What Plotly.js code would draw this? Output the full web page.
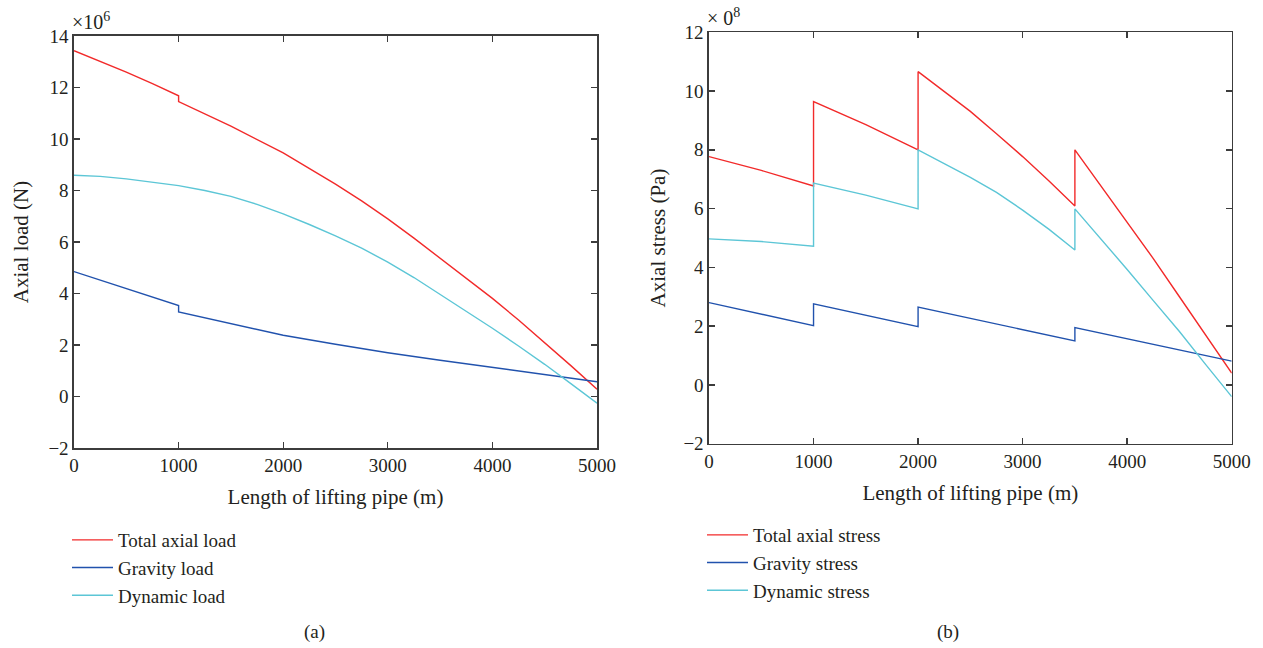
<!DOCTYPE html>
<html>
<head>
<meta charset="utf-8">
<script src="https://cdn.plot.ly/plotly-3.0.1.min.js"></script>
<style>html,body{margin:0;padding:0;background:#fff;}#chart{width:1263px;height:648px;}</style>
</head>
<body>
<div id="chart"></div>
<script>
// ---- Panel (a): axial load (×10^6 N) ----
const loadTotalX = [0,250,500,750,1000,1000,1500,2000,2250,2500,2750,3000,3250,3500,3750,4000,4250,4500,4750,5000];
const loadTotalY = [13.43,13.03,12.6,12.15,11.68,11.45,10.5,9.46,8.87,8.25,7.6,6.9,6.15,5.38,4.6,3.81,2.97,2.1,1.2,0.28];
const loadGravX = [0,500,1000,1000,1500,2000,2500,3000,3500,4000,4500,5000];
const loadGravY = [4.85,4.19,3.53,3.28,2.82,2.38,2.03,1.70,1.41,1.13,0.85,0.57];
const loadDynX = [0,250,500,750,1000,1250,1500,1750,2000,2250,2500,2750,3000,3250,3500,3750,4000,4250,4500,4750,5000];
const loadDynY = [8.59,8.55,8.45,8.33,8.19,8.0,7.77,7.46,7.09,6.68,6.24,5.76,5.22,4.62,3.97,3.32,2.65,1.96,1.25,0.5,-0.26];

// ---- Panel (b): axial stress (×10^8 Pa) ----
const stressTotalX = [0,500,1000,1000,1500,2000,2000,2250,2500,2750,3000,3250,3500,3500,4000,4250,4500,4750,5000];
const stressTotalY = [7.77,7.3,6.77,9.64,8.86,8.0,10.66,10.0,9.31,8.55,7.77,6.95,6.09,8.0,5.55,4.3,3.0,1.7,0.40];
const stressGravX = [0,1000,1000,2000,2000,3500,3500,5000];
const stressGravY = [2.80,2.02,2.76,1.98,2.65,1.50,1.95,0.81];
const stressDynX = [0,500,1000,1000,1500,2000,2000,2250,2500,2750,3000,3250,3500,3500,3750,4000,4250,4500,4750,5000];
const stressDynY = [4.97,4.88,4.72,6.87,6.46,5.99,8.0,7.53,7.06,6.55,5.95,5.3,4.59,5.99,4.97,3.93,2.87,1.82,0.70,-0.40];

const namesA = ["Total axial load","Gravity load","Dynamic load"];
const namesB = ["Total axial stress","Gravity stress","Dynamic stress"];
const xTicks = [0,1000,2000,3000,4000,5000];

const RED = "#f22a2a", BLUE = "#2152ad", CYAN = "#5cc6d6";
const FONT = "Liberation Serif, Times New Roman, serif";
const TXT = "#231f20";
const LW = 1.4;

function tr(x,y,name,color,xa,ya,leg){
  return {x:x,y:y,name:name,type:"scatter",mode:"lines",line:{color:color,width:LW},
          xaxis:xa,yaxis:ya,legend:leg};
}
const data = [
  tr(loadTotalX,loadTotalY,namesA[0],RED,"x","y","legend"),
  tr(loadGravX,loadGravY,namesA[1],BLUE,"x","y","legend"),
  tr(loadDynX,loadDynY,namesA[2],CYAN,"x","y","legend"),
  tr(stressTotalX,stressTotalY,namesB[0],RED,"x2","y2","legend2"),
  tr(stressGravX,stressGravY,namesB[1],BLUE,"x2","y2","legend2"),
  tr(stressDynX,stressDynY,namesB[2],CYAN,"x2","y2","legend2")
];

const W = 1263, H = 648;
const titleFont = {family:FONT,size:21,color:TXT};
function axBase(){
  return {showline:true,linecolor:"#3c3c3c",linewidth:1.6,mirror:"ticks",ticks:"inside",
          ticklen:6,tickwidth:1.4,tickcolor:"#3c3c3c",showgrid:false,zeroline:false,
          tickfont:{family:FONT,size:19,color:TXT}};
}
const xa = Object.assign(axBase(),{domain:[74/W,597/W],range:[0,5000],tickvals:xTicks,anchor:"y",
  title:{text:"Length of lifting pipe (m)",font:titleFont,standoff:14}});
const ya = Object.assign(axBase(),{domain:[1-448/H,1-36/H],range:[-2,14],dtick:2,anchor:"x",
  title:{text:"Axial load (N)",font:titleFont,standoff:14}});
const xb = Object.assign(axBase(),{domain:[709/W,1231.7/W],range:[0,5000],tickvals:xTicks,anchor:"y2",
  title:{text:"Length of lifting pipe (m)",font:titleFont,standoff:14}});
const yb = Object.assign(axBase(),{domain:[1-443.7/H,1-32.3/H],range:[-2,12],dtick:2,anchor:"x2",
  title:{text:"Axial stress (Pa)",font:titleFont,standoff:12}});

const legFont = {family:FONT,size:19,color:TXT};
const layout = {
  width:W,height:H,margin:{l:0,r:0,t:0,b:0},
  paper_bgcolor:"#fff",plot_bgcolor:"#fff",
  showlegend:true,
  xaxis:xa,yaxis:ya,xaxis2:xb,yaxis2:yb,
  legend:{x:67/W,y:1-521/H,xanchor:"left",yanchor:"top",font:legFont,bgcolor:"rgba(0,0,0,0)",
          traceorder:"normal",itemwidth:41},
  legend2:{x:702/W,y:1-516/H,xanchor:"left",yanchor:"top",font:legFont,bgcolor:"rgba(0,0,0,0)",
          traceorder:"normal",itemwidth:41},
  annotations:[
    {text:"×10<sup>6</sup>",xref:"x domain",yref:"y domain",x:0,y:1,xanchor:"left",yanchor:"bottom",
     xshift:-4,yshift:1,showarrow:false,font:{family:FONT,size:20,color:TXT}},
    {text:"× 0<sup>8</sup>",xref:"x2 domain",yref:"y2 domain",x:0,y:1,xanchor:"left",yanchor:"bottom",
     xshift:-4,yshift:1,showarrow:false,font:{family:FONT,size:20,color:TXT}},
    {text:"(a)",xref:"paper",yref:"paper",x:314/W,y:1-632/H,xanchor:"center",yanchor:"middle",
     showarrow:false,font:{family:FONT,size:19,color:TXT}},
    {text:"(b)",xref:"paper",yref:"paper",x:948/W,y:1-632/H,xanchor:"center",yanchor:"middle",
     showarrow:false,font:{family:FONT,size:19,color:TXT}}
  ]
};
Plotly.newPlot("chart",data,layout,{staticPlot:true,displayModeBar:false});
</script>
</body>
</html>
